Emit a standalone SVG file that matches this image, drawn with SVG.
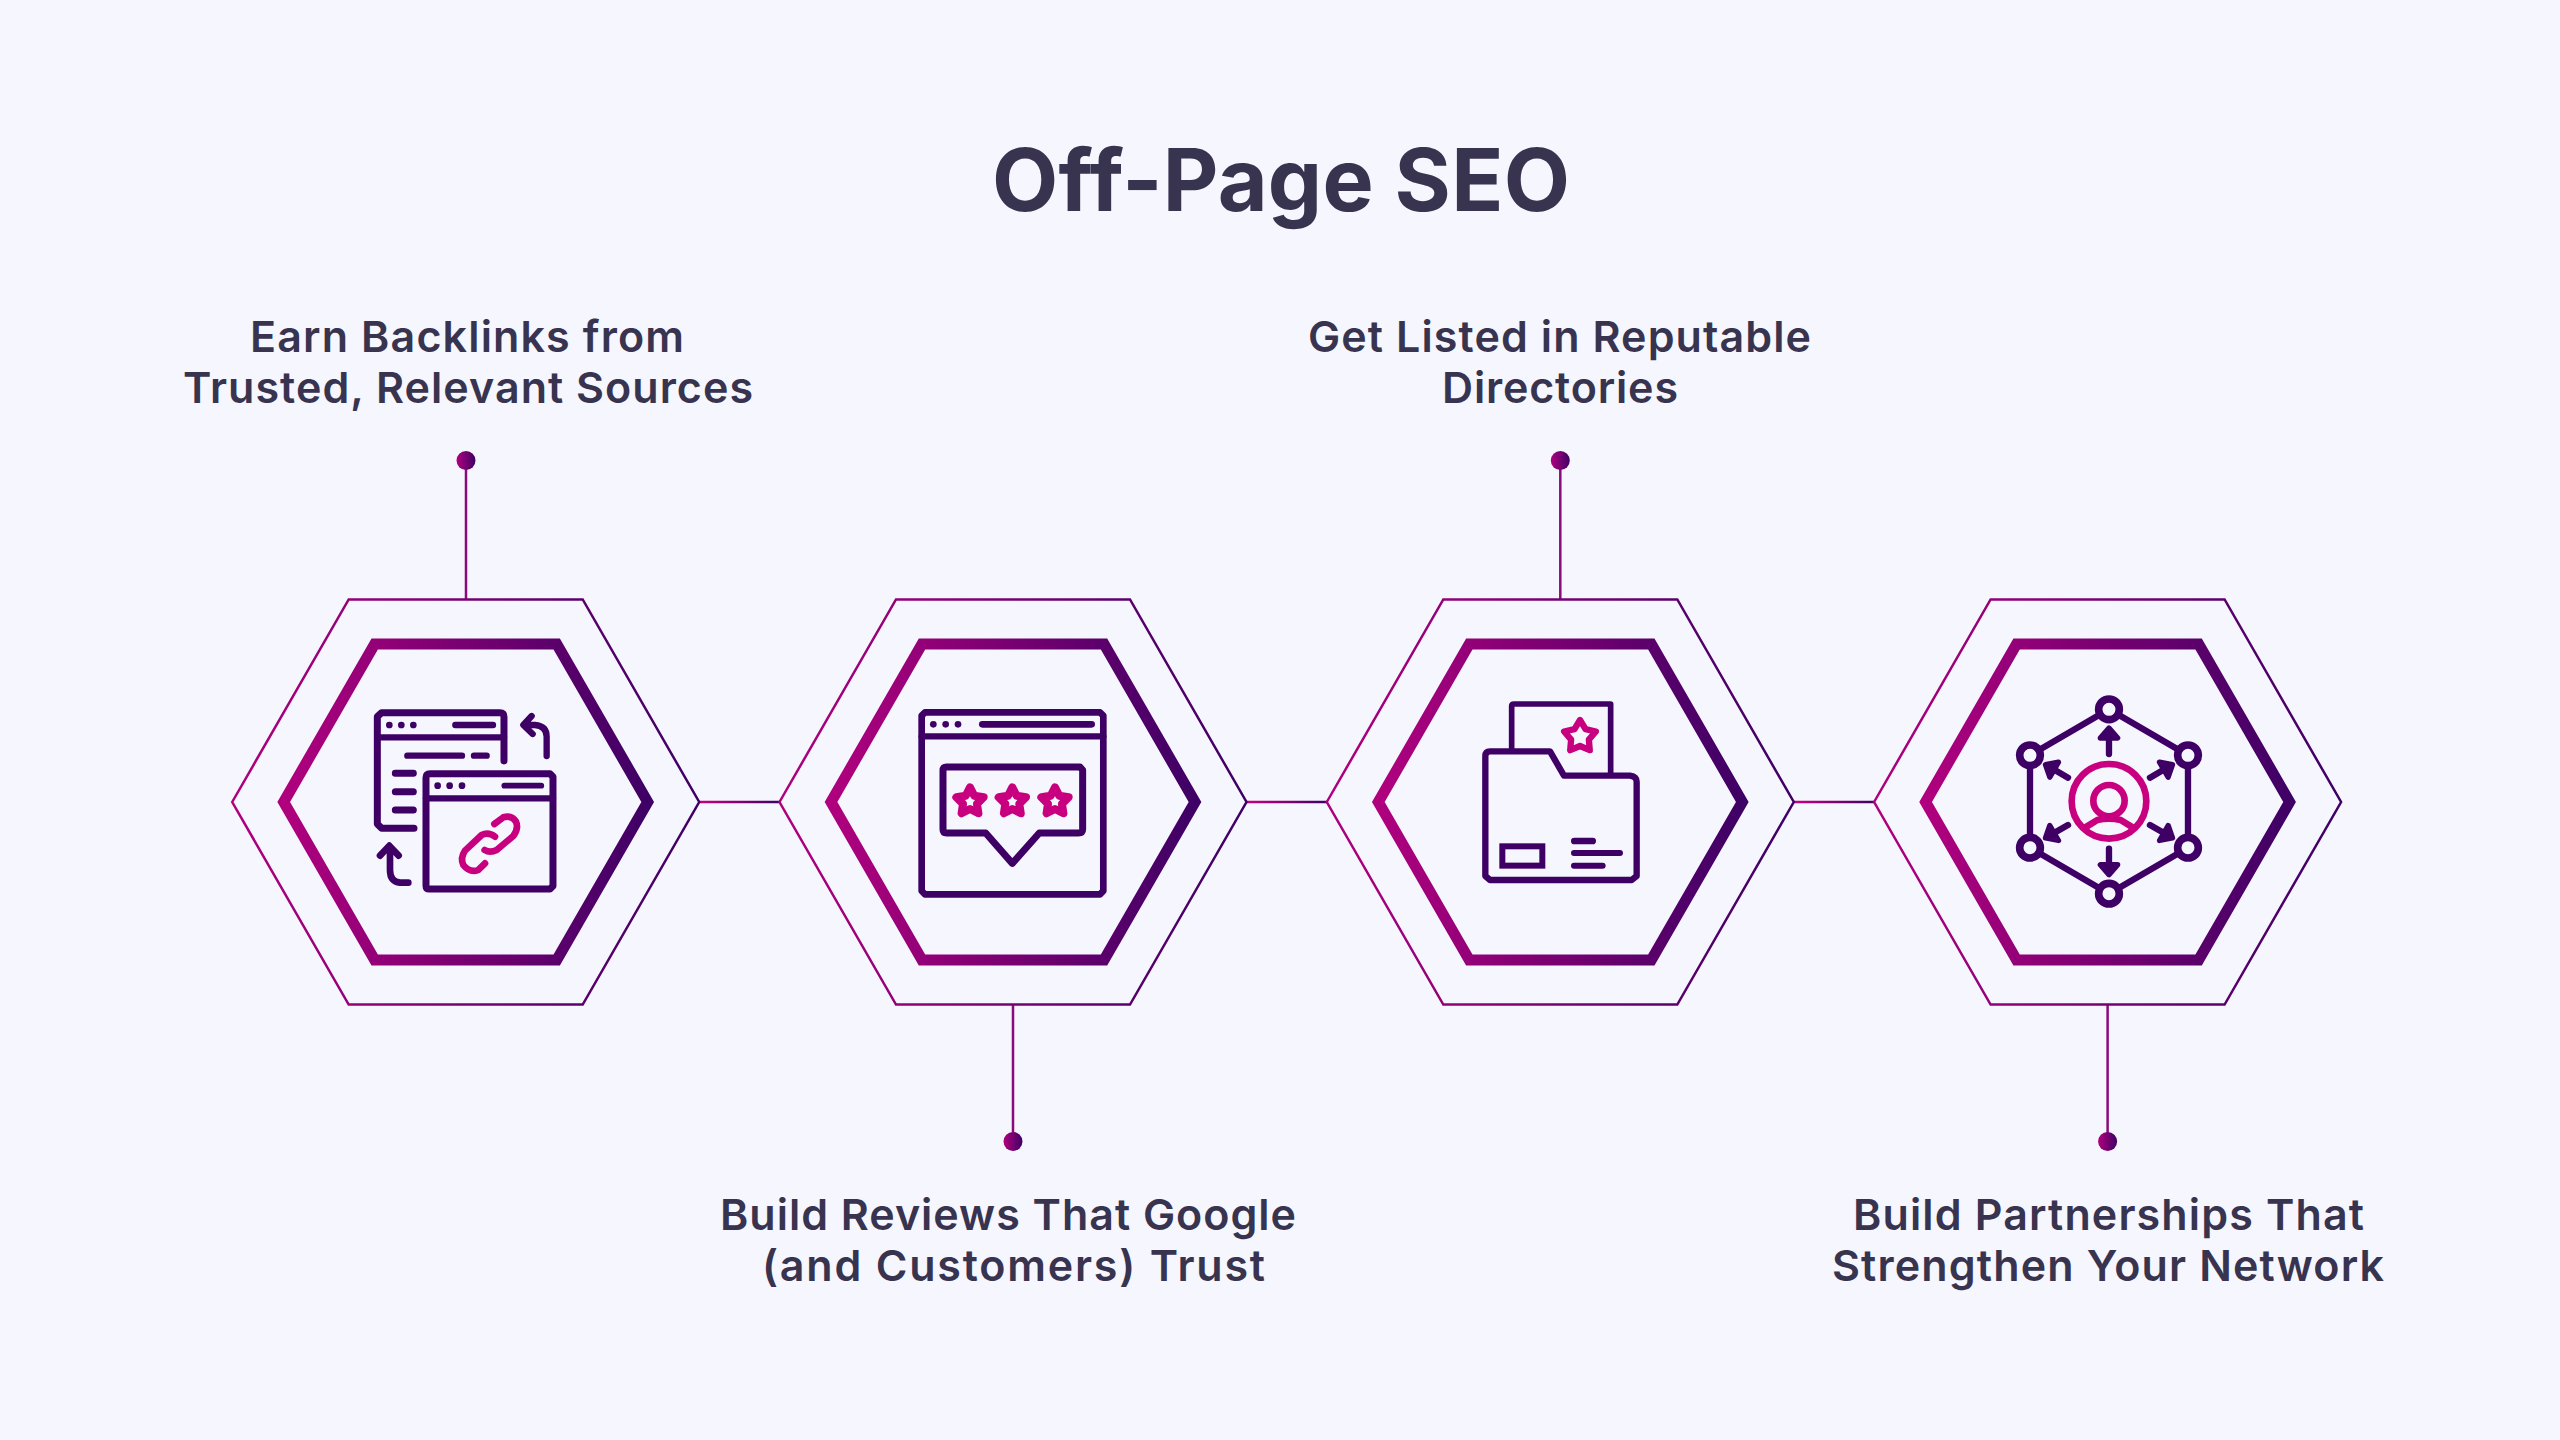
<svg xmlns="http://www.w3.org/2000/svg" xmlns:xlink="http://www.w3.org/1999/xlink" width="2560" height="1440" viewBox="0 0 2560 1440">
<style>
text{font-family:"Inter","Noto Sans","Liberation Sans",sans-serif;fill:#38344f}
.title{font-size:86px;font-weight:700}
.label{font-size:43px;font-weight:600}
.p{fill:none;stroke:#3f0065;stroke-linecap:round;stroke-linejoin:round}
.m{fill:none;stroke:#c8007f;stroke-linecap:round;stroke-linejoin:round}
.d{fill:#3f0065}
.ring{fill:#f5f6fe;stroke:#3f0065;stroke-width:23}
</style>
<defs>
<linearGradient id="g"><stop offset="0" stop-color="#b0007e"/><stop offset="1" stop-color="#3f0065"/></linearGradient>
<linearGradient id="hl" gradientUnits="userSpaceOnUse" x1="0" y1="0" x2="81" y2="0"><stop offset="0" stop-color="#c8007f"/><stop offset="1" stop-color="#3f0065"/></linearGradient>
<polygon id="outer" points="-233.5,0 -117,-202.5 117,-202.5 233.5,0 117,202.5 -117,202.5" fill="none" stroke="url(#g)" stroke-width="2.5"/>
<polygon id="inner" points="-182,0 -91,-158 91,-158 182,0 91,158 -91,158" fill="none" stroke="url(#g)" stroke-width="11"/>
<polygon id="star" points="0,-43 12.9,-17.8 41,-13.3 20.9,6.8 25.3,34.8 0,22 -25.3,34.8 -20.9,6.8 -41,-13.3 -12.9,-17.8" class="m" stroke-width="24"/>
<g id="arrow"><path class="p" stroke-width="19" d="M357,222 V172"/><polygon points="357,144 383,174 331,174" fill="#3f0065" stroke="#3f0065" stroke-width="16" stroke-linejoin="round"/></g>
</defs>
<rect width="2560" height="1440" fill="#f5f6fe"/>
<text class="title" x="992" y="211" textLength="578">Off-Page SEO</text>
<g id="connectors">
<line x1="466" y1="460" x2="466" y2="599" stroke="#8a0a7c" stroke-width="2.5"/>
<line x1="1013" y1="1004" x2="1013" y2="1141" stroke="#8a0a7c" stroke-width="2.5"/>
<line x1="1560.3" y1="460" x2="1560.3" y2="599" stroke="#8a0a7c" stroke-width="2.5"/>
<line x1="2107.6" y1="1004" x2="2107.6" y2="1141" stroke="#8a0a7c" stroke-width="2.5"/>
<line x1="0" y1="0" x2="81" y2="0" stroke="url(#hl)" stroke-width="2.5" transform="translate(699,802)"/>
<line x1="0" y1="0" x2="81" y2="0" stroke="url(#hl)" stroke-width="2.5" transform="translate(1246.5,802)"/>
<line x1="0" y1="0" x2="81" y2="0" stroke="url(#hl)" stroke-width="2.5" transform="translate(1793.8,802)"/>
<circle cx="466" cy="460.5" r="9.5" fill="url(#g)"/>
<circle cx="1013" cy="1141.5" r="9.5" fill="url(#g)"/>
<circle cx="1560.3" cy="460.5" r="9.5" fill="url(#g)"/>
<circle cx="2107.6" cy="1141.5" r="9.5" fill="url(#g)"/>
</g>
<g id="node1">
<use xlink:href="#outer" href="#outer" transform="translate(465.7,802)"/>
<use xlink:href="#inner" href="#inner" transform="translate(465.7,802)"/>
<g transform="translate(340,680) scale(.3333)">
<path class="p" stroke-width="21" d="M222,445 H125 L112,432 V110 L125,98 H480 Q492,98 492,110 V243"/>
<path class="p" stroke-width="19" d="M112,172 H492" stroke-linecap="butt"/>
<circle class="d" cx="148" cy="135" r="10"/><circle class="d" cx="184" cy="135" r="10"/><circle class="d" cx="220" cy="135" r="10"/>
<path class="p" stroke-width="19" d="M346,135 H459M202,227 H366M402,227 H440"/>
<path class="p" stroke-width="21" d="M166,280 H220M166,335 H220M166,390 H220"/>
<path class="p" stroke-width="19" d="M620,228 V170 Q620,138 585,135 H555M575,108 L550,135 L578,162"/>
<path class="p" stroke-width="20" d="M205,608 H180 Q150,605 150,570 V505M120,527 L148,497 L176,527"/>
<path class="p" stroke-width="21" d="M270,281 H630 L639,290 V618 L630,627 H268 Q258,627 258,617 V293 Q258,281 270,281 Z"/>
<path class="p" stroke-width="19" d="M258,355 H639" stroke-linecap="butt"/>
<circle class="d" cx="293" cy="317" r="10"/><circle class="d" cx="329" cy="317" r="10"/><circle class="d" cx="366" cy="317" r="10"/>
<path class="p" stroke-width="17" d="M493,317 H604"/>
<path class="m" stroke-width="20" d="M463,432 L490,412 Q515,405 528,425 Q537,445 520,468 L470,510 Q450,520 434,510"/>
<path class="m" stroke-width="20" d="M465,470 Q445,455 425,465 L375,512 Q360,535 370,555 Q390,580 415,570 L435,550"/>
</g>
</g>
<g id="node2">
<use xlink:href="#outer" href="#outer" transform="translate(1013,802)"/>
<use xlink:href="#inner" href="#inner" transform="translate(1013,802)"/>
<g transform="translate(890,690) scale(.3333)">
<path class="p" stroke-width="20" d="M105,67 H630 L640,77 V603 L630,613 H105 L95,603 V77 Z"/>
<path class="p" stroke-width="19" d="M95,139 H640" stroke-linecap="butt"/>
<circle class="d" cx="130" cy="103" r="10"/><circle class="d" cx="167" cy="103" r="10"/><circle class="d" cx="204" cy="103" r="10"/>
<path class="p" stroke-width="20" d="M277,103 H605"/>
<path class="p" stroke-width="21" d="M170,231 H570 L578,240 V418 Q578,429 565,429 H448 L367,520 L287,429 H170 Q159,429 159,418 V242 Q159,231 170,231 Z"/>
<use xlink:href="#star" href="#star" transform="translate(240,335)"/>
<use xlink:href="#star" href="#star" transform="translate(367,335)"/>
<use xlink:href="#star" href="#star" transform="translate(495,335)"/>
</g>
</g>
<g id="node3">
<use xlink:href="#outer" href="#outer" transform="translate(1560.3,802)"/>
<use xlink:href="#inner" href="#inner" transform="translate(1560.3,802)"/>
<g transform="translate(1460,680) scale(.3333)">
<path class="p" stroke-width="17" d="M155,205 V78 Q155,72 162,72 H452 V283"/>
<path class="p" stroke-width="19" d="M76,585 V228 Q76,214 90,214 H270 L312,287 H510 Q530,290 530,305 V588 L515,600 H90 L76,588 Z"/>
<rect x="127" y="499" width="120" height="58" fill="none" stroke="#3f0065" stroke-width="18"/>
<path class="p" stroke-width="20" d="M343,483 H398"/>
<path class="p" stroke-width="18" d="M342,519 H480M342,557 H428"/>
<polygon class="m" stroke-width="19" transform="translate(360,170)" points="0,-50 16.5,-22.7 47.6,-15.5 26.6,8.7 29.4,40.5 0,28 -29.4,40.5 -26.6,8.7 -47.6,-15.5 -16.5,-22.7"/>
</g>
</g>
<g id="node4">
<use xlink:href="#outer" href="#outer" transform="translate(2107.6,802)"/>
<use xlink:href="#inner" href="#inner" transform="translate(2107.6,802)"/>
<g transform="translate(1990,680) scale(.3333)">
<polygon class="p" stroke-width="19" points="357,88 594,226 594,503 357,641 120,503 120,226"/>
<circle class="ring" cx="357" cy="88" r="31"/><circle class="ring" cx="594" cy="226" r="31"/><circle class="ring" cx="594" cy="503" r="31"/><circle class="ring" cx="357" cy="641" r="31"/><circle class="ring" cx="120" cy="503" r="31"/><circle class="ring" cx="120" cy="226" r="31"/>
<use xlink:href="#arrow" href="#arrow"/>
<use xlink:href="#arrow" href="#arrow" transform="rotate(60 357 364)"/>
<use xlink:href="#arrow" href="#arrow" transform="rotate(120 357 364)"/>
<use xlink:href="#arrow" href="#arrow" transform="rotate(180 357 364)"/>
<use xlink:href="#arrow" href="#arrow" transform="rotate(240 357 364)"/>
<use xlink:href="#arrow" href="#arrow" transform="rotate(300 357 364)"/>
<circle class="m" stroke-width="20" cx="357" cy="364" r="112"/>
<circle class="m" stroke-width="20" cx="357" cy="362" r="47"/>
<path class="m" stroke-width="20" d="M285,443 L322,420 Q357,412 392,420 L429,443"/>
</g>
</g>
<g id="labels">
<text class="label" x="250" y="352" textLength="434">Earn Backlinks from</text>
<text class="label" x="183" y="403" textLength="570">Trusted, Relevant Sources</text>
<text class="label" x="720" y="1230" textLength="576">Build Reviews That Google</text>
<text class="label" x="762" y="1281" textLength="503">(and Customers) Trust</text>
<text class="label" x="1308" y="352" textLength="503">Get Listed in Reputable</text>
<text class="label" x="1442" y="403" textLength="236">Directories</text>
<text class="label" x="1853" y="1230" textLength="511">Build Partnerships That</text>
<text class="label" x="1832" y="1281" textLength="552">Strengthen Your Network</text>
</g>
</svg>
